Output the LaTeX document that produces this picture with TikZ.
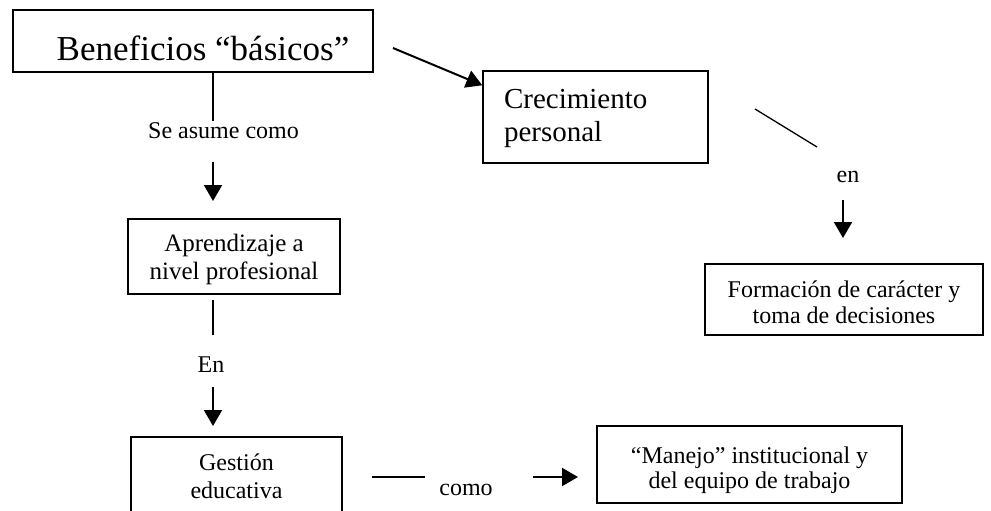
\documentclass[tikz,border=0pt]{standalone}
\usepackage{fontspec}
\setmainfont{Liberation Serif}
\usetikzlibrary{arrows.meta}
\newcommand{\mytop}[1]{\rule{0pt}{#1}}
\newcommand{\mybot}[1]{\rule[-#1]{0pt}{#1}}
\tikzset{
  boxnode/.style={draw, line width=1.4pt, inner sep=0pt, align=center},
  bigfont/.style={font=\fontsize{35pt}{40pt}\selectfont},
  midfont/.style={font=\fontsize{29pt}{33pt}\selectfont},
  aprfont/.style={font=\fontsize{25pt}{28pt}\selectfont},
  smallfont/.style={font=\fontsize{24pt}{#1}\selectfont},
  smallfont/.default=26pt,
  plainline/.style={line width=1.3pt},
  arrowline/.style={line width=2pt, -{Triangle[length=16pt,width=18pt]}},
  lbl/.style={smallfont, inner sep=0pt, anchor=base},
}
\begin{document}
\begin{tikzpicture}[x=1pt,y=-1pt]
\useasboundingbox (0,0) rectangle (991,511);
\clip (0,0) rectangle (991,511);
% boxes
\node[boxnode, bigfont, minimum width=360pt, minimum height=62pt] (b1) at (193,41)
  {\hspace*{20pt}\mytop{44pt}Beneficios “básicos”\mybot{4pt}};
\node[boxnode, midfont, minimum width=225pt, minimum height=92pt, text width=183pt, inner xsep=21pt, align=left] (c1) at (595.5,117)
  {\mytop{23pt}Crecimiento\\personal\mybot{6.5pt}};
\node[boxnode, smallfont=26pt, minimum width=278pt, minimum height=71pt] (f1) at (844,299.5)
  {\mytop{22pt}Formación de carácter y\\toma de decisiones\mybot{1pt}};
\node[boxnode, aprfont, minimum width=212pt, minimum height=75pt] (a1) at (234,256.5)
  {\mytop{23pt}Aprendizaje a\\nivel profesional\mybot{6pt}};
\node[boxnode, smallfont=28pt, minimum width=211pt, minimum height=86pt] (g1) at (236.5,480)
  {\mytop{18pt}Gestión\\educativa\mybot{10pt}};
\node[boxnode, smallfont=25pt, minimum width=305pt, minimum height=77pt] (m1) at (749.5,464.5)
  {\mytop{28pt}“Manejo” institucional y\\del equipo de trabajo\mybot{6pt}};
% labels
\node[lbl] (t1) at (223.5,138) {Se asume como};
\node[lbl] (t2) at (848,182) {en};
\node[lbl] (t3) at (211,372) {En};
\node[lbl] (t4) at (466,495) {como};
% free ends
\coordinate (l1e) at (213,121);
\coordinate (r1s) at (213,162);
\coordinate (r1e) at (213,201);
\coordinate (d1s) at (393,48);
\coordinate (d2s) at (755,109);
\coordinate (d2e) at (817,147);
\coordinate (r2s) at (843,200);
\coordinate (r2e) at (843,238);
\coordinate (l2s) at (213,300);
\coordinate (l2e) at (213,335);
\coordinate (r3s) at (213,387);
\coordinate (r3e) at (213,426);
\coordinate (l3s) at (372,477);
\coordinate (l3e) at (425,477);
\coordinate (r4s) at (533,477);
\coordinate (r4e) at (578,477);
% connectors
\draw[plainline] ([xshift=20pt]b1.south) -- (l1e);
\draw[arrowline] (r1s) -- (r1e);
\draw[arrowline] (d1s) -- ([yshift=-15pt]c1.north west);
\draw[plainline] (d2s) -- (d2e);
\draw[arrowline] (r2s) -- (r2e);
\draw[plainline] (l2s) -- (l2e);
\draw[arrowline] (r3s) -- (r3e);
\draw[plainline] (l3s) -- (l3e);
\draw[arrowline] (r4s) -- (r4e);
\end{tikzpicture}
\end{document}
